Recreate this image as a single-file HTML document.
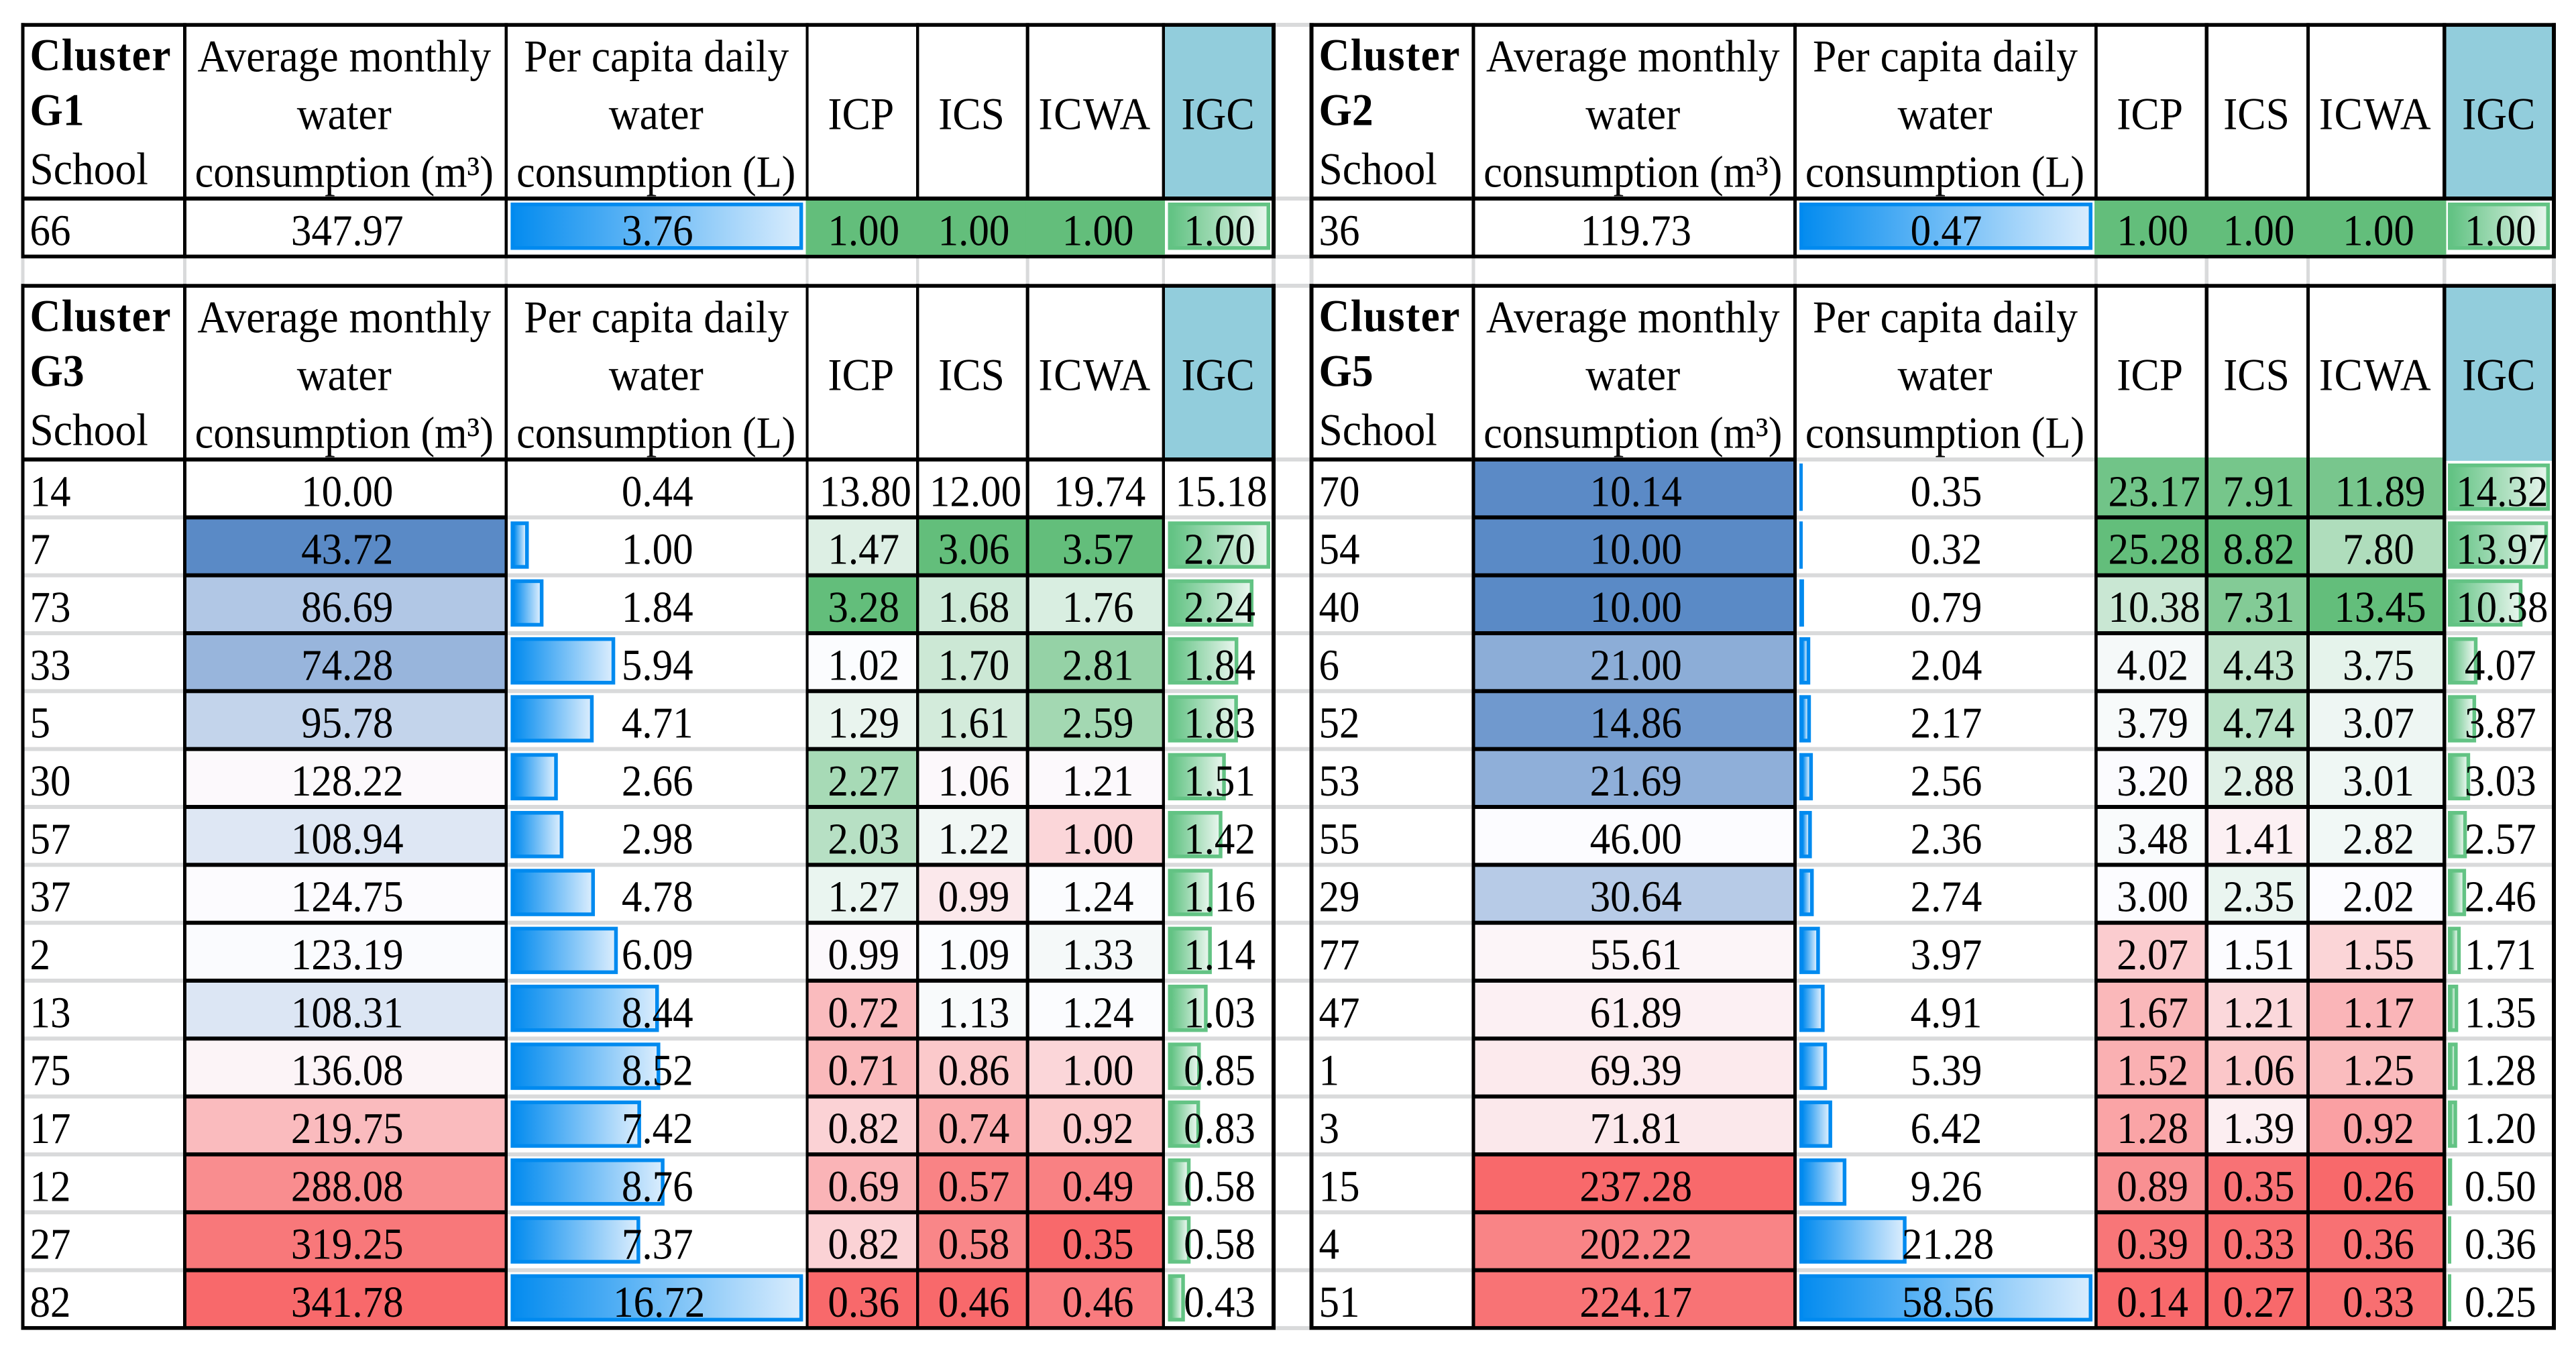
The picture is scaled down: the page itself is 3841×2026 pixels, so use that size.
<!DOCTYPE html>
<html lang="en">
<head>
<meta charset="utf-8">
<title>School water consumption clusters</title>
<style>
  html, body { margin: 0; padding: 0; background: #ffffff; }
  svg { display: block; }
  text { font-family: "Liberation Serif", "Times New Roman", serif; fill: #000000; }
</style>
</head>
<body>
<svg id="chart" xmlns="http://www.w3.org/2000/svg" width="3841" height="2026" viewBox="0 0 3841 2026">
  <defs>
    <linearGradient id="blue-bar-gradient" x1="0" y1="0" x2="1" y2="0">
      <stop offset="0" stop-color="#058cef"/>
      <stop offset="1" stop-color="#d8ecfd"/>
    </linearGradient>
    <linearGradient id="green-bar-gradient" x1="0" y1="0" x2="1" y2="0">
      <stop offset="0" stop-color="#63c384"/>
      <stop offset="1" stop-color="#e6f5ec"/>
    </linearGradient>
  </defs>
  <rect x="0" y="0" width="3841" height="2026" fill="#ffffff"/>
</svg>
<script>
// ---- Data ----
const g1Schools = [66];
const g1Avg = [347.97];
const g1PerCapita = [3.76];
const g1Icp = [1.00];
const g1Ics = [1.00];
const g1Icwa = [1.00];
const g1Igc = [1.00];

const g2Schools = [36];
const g2Avg = [119.73];
const g2PerCapita = [0.47];
const g2Icp = [1.00];
const g2Ics = [1.00];
const g2Icwa = [1.00];
const g2Igc = [1.00];

const g3Schools = [14, 7, 73, 33, 5, 30, 57, 37, 2, 13, 75, 17, 12, 27, 82];
const g3Avg = [10.00, 43.72, 86.69, 74.28, 95.78, 128.22, 108.94, 124.75, 123.19, 108.31, 136.08, 219.75, 288.08, 319.25, 341.78];
const g3PerCapita = [0.44, 1.00, 1.84, 5.94, 4.71, 2.66, 2.98, 4.78, 6.09, 8.44, 8.52, 7.42, 8.76, 7.37, 16.72];
const g3Icp = [13.80, 1.47, 3.28, 1.02, 1.29, 2.27, 2.03, 1.27, 0.99, 0.72, 0.71, 0.82, 0.69, 0.82, 0.36];
const g3Ics = [12.00, 3.06, 1.68, 1.70, 1.61, 1.06, 1.22, 0.99, 1.09, 1.13, 0.86, 0.74, 0.57, 0.58, 0.46];
const g3Icwa = [19.74, 3.57, 1.76, 2.81, 2.59, 1.21, 1.00, 1.24, 1.33, 1.24, 1.00, 0.92, 0.49, 0.35, 0.46];
const g3Igc = [15.18, 2.70, 2.24, 1.84, 1.83, 1.51, 1.42, 1.16, 1.14, 1.03, 0.85, 0.83, 0.58, 0.58, 0.43];
const g3UnscaledRows = [0];

const g5Schools = [70, 54, 40, 6, 52, 53, 55, 29, 77, 47, 1, 3, 15, 4, 51];
const g5Avg = [10.14, 10.00, 10.00, 21.00, 14.86, 21.69, 46.00, 30.64, 55.61, 61.89, 69.39, 71.81, 237.28, 202.22, 224.17];
const g5PerCapita = [0.35, 0.32, 0.79, 2.04, 2.17, 2.56, 2.36, 2.74, 3.97, 4.91, 5.39, 6.42, 9.26, 21.28, 58.56];
const g5Icp = [23.17, 25.28, 10.38, 4.02, 3.79, 3.20, 3.48, 3.00, 2.07, 1.67, 1.52, 1.28, 0.89, 0.39, 0.14];
const g5Ics = [7.91, 8.82, 7.31, 4.43, 4.74, 2.88, 1.41, 2.35, 1.51, 1.21, 1.06, 1.39, 0.35, 0.33, 0.27];
const g5Icwa = [11.89, 7.80, 13.45, 3.75, 3.07, 3.01, 2.82, 2.02, 1.55, 1.17, 1.25, 0.92, 0.26, 0.36, 0.33];
const g5Igc = [14.32, 13.97, 10.38, 4.07, 3.87, 3.03, 2.57, 2.46, 1.71, 1.35, 1.28, 1.20, 0.50, 0.36, 0.25];

// ---- Drawing ----
const svg = document.getElementById('chart');
const NS = 'http://www.w3.org/2000/svg';
const BLACK = '#000000';
const GREY = '#d9dadb';
const ROW_H = 86.33;
const FONT_CELL = 61;
const FONT_HEAD = 63.5;
const FONT_HEAD_LAST = 62.2;
const Y_STRETCH = 1.07;

function addRect(name, x, y, w, h, fill) {
  const el = document.createElementNS(NS, 'rect');
  
  
  el.setAttribute('x', x);
  el.setAttribute('y', y);
  el.setAttribute('width', Math.max(0, w));
  el.setAttribute('height', Math.max(0, h));
  el.setAttribute('fill', fill);
  svg.appendChild(el);
  return el;
}

function addText(name, str, x, y, size, anchor, bold, spacing) {
  const el = document.createElementNS(NS, 'text');
  
  
  el.setAttribute('transform', 'translate(' + x + ',' + y + ') scale(1,' + Y_STRETCH + ')');
  el.setAttribute('font-size', size);
  el.setAttribute('text-anchor', anchor);
  if (bold) el.setAttribute('font-weight', 'bold');
  if (spacing) el.setAttribute('letter-spacing', spacing);
  el.textContent = str;
  svg.appendChild(el);
  return el;
}

function hexToRgb(h) {
  return [parseInt(h.slice(1, 3), 16), parseInt(h.slice(3, 5), 16), parseInt(h.slice(5, 7), 16)];
}
function mix(a, b, t) {
  const ca = hexToRgb(a), cb = hexToRgb(b);
  return 'rgb(' + ca.map(function (v, i) { return Math.round(v + (cb[i] - v) * t); }).join(',') + ')';
}
function median(list) {
  const s = list.slice().sort(function (a, b) { return a - b; });
  const m = Math.floor(s.length / 2);
  return s.length % 2 ? s[m] : (s[m - 1] + s[m]) / 2;
}
// three-colour scale: min colour -> mid colour (median) -> max colour
function colorScale(values, lowColor, highColor) {
  const min = Math.min.apply(null, values);
  const max = Math.max.apply(null, values);
  const mid = median(values);
  const MID = '#fcfcff';
  return function (v) {
    if (min === max) return highColor;
    if (v <= mid) return mid === min ? MID : mix(lowColor, MID, (v - min) / (mid - min));
    return mix(MID, highColor, (v - mid) / (max - mid));
  };
}
function barScale(values, fullWidth) {
  const max = Math.max.apply(null, values);
  return function (v) { return Math.max(5, Math.min(fullWidth, 1 + (v / max) * fullWidth)); };
}
function scaledOnly(values, skip) {
  return values.filter(function (v, i) { return skip.indexOf(i) < 0; });
}
function valueOffset(str, col) {
  const base = str.length >= 5 ? 4.5 : 2;
  if (col === 1) return base - 2;
  if (col === 2) return base - 1;
  if (col === 5) return base + 1.5;
  return base;
}

function drawBar(name, x, y, w, h, border, gradient) {
  addRect(name + '-border', x, y, w, h, border);
  if (w > 11) addRect(name + '-fill', x + 5.5, y + 5.5, w - 11, h - 11, 'url(#' + gradient + ')');
}

function drawTable(t) {
  const e = t.edges;
  const cx = function (i) { return (e[i][1] + e[i + 1][0]) / 2; };
  const n = t.schools.length;
  const headTop = t.top + 3;
  const rowLine = function (i) { return t.firstLine + i * t.rowH; };
  const bottom = rowLine(n);
  const key = t.key;

  // header accent
  addRect(key + '-igc-header-fill', e[6][1], headTop, e[7][0] - e[6][1], (t.headerOpen ? t.firstLine + 2 : t.firstLine - 3) - headTop, '#92cddc');

  // scales
  const avgScale = t.avgScaled ? colorScale(scaledOnly(t.avg, t.skip), '#5a8ac6', '#f8696b') : null;
  const heatCols = [t.icp, t.ics, t.icwa];
  const heatNames = ['icp', 'ics', 'icwa'];
  const heatScales = heatCols.map(function (c) { return colorScale(scaledOnly(c, t.skip), '#f8696b', '#63be7b'); });
  const pcWidth = barScale(scaledOnly(t.perCapita, t.skip), t.pcFull);
  const igcWidth = barScale(scaledOnly(t.igc, t.skip), t.igcFull);

  // cell fills and bars
  for (let i = 0; i < n; i++) {
    const skip = t.skip.indexOf(i) >= 0;
    const y0 = rowLine(i), y1 = rowLine(i + 1);
    const school = t.schools[i];
    if (avgScale && !skip) {
      addRect(key + '-avg-cell-' + school, (e[1][0] + e[1][1]) / 2, y0, e[2][0] - e[1][0], y1 - y0, avgScale(t.avg[i]));
    }
    if (!skip) {
      heatCols.forEach(function (col, c) {
        const top = (t.headerOpen && i === 0) ? y0 - 3 : y0;
        const xa = (e[3 + c][0] + e[3 + c][1]) / 2;
        const xb = (e[4 + c][0] + e[4 + c][1]) / 2;
        addRect(key + '-' + heatNames[c] + '-cell-' + school, xa, top, xb - xa, y1 - top, heatScales[c](col[i]));
      });
      drawBar(key + '-per-capita-bar-' + school, t.pcLeft, y0 + 6, pcWidth(t.perCapita[i]), 70.5, '#008aef', 'blue-bar-gradient');
      drawBar(key + '-igc-bar-' + school, t.igcLeft, y0 + 6, igcWidth(t.igc[i]), 70.5, '#63c384', 'green-bar-gradient');
    }
  }

  // horizontal rules
  addRect(key + '-top-rule', e[0][0], t.top, e[7][1] - e[0][0], 5.6, BLACK);
  for (let i = 0; i <= n; i++) {
    const y = rowLine(i) - 3;
    if (i === n) { addRect(key + '-bottom-rule', e[0][0], y, e[7][1] - e[0][0], 5.6, BLACK); continue; }
    const isHeader = i === 0;
    // school column
    addRect(key + '-school-rule-' + i, e[0][1], y, e[1][0] - e[0][1], 6, (isHeader) ? BLACK : GREY);
    // average column
    addRect(key + '-avg-rule-' + i, e[1][1], y, e[2][0] - e[1][1], 6, BLACK);
    // per capita column
    addRect(key + '-per-capita-rule-' + i, e[2][1], y, e[3][0] - e[2][1], 6, (isHeader && !t.headerOpen) ? BLACK : GREY);
    // heat columns
    if (!(isHeader && t.headerOpen)) {
      addRect(key + '-heat-rule-' + i, e[3][0], y, e[6][1] - e[3][0], 6, BLACK);
    }
    // igc column
    if (isHeader && !t.headerOpen) {
      addRect(key + '-igc-rule-' + i, e[6][0], y, e[7][0] - e[6][0], 6, BLACK);
    } else if (!isHeader) {
      addRect(key + '-igc-rule-' + i, e[6][1], y, e[7][0] - e[6][1], 6, GREY);
    }
  }

  // vertical rules
  e.forEach(function (edge, i) {
    const headOnly = t.single && i >= 3 && i <= 6;
    const yEnd = headOnly ? t.firstLine : bottom;
    addRect(key + '-column-rule-' + i, edge[0], t.top, edge[1] - edge[0], yEnd - t.top, BLACK);
  });
  if (t.single) {
    heatCols.forEach(function (col, c) {
      addRect(key + '-' + heatNames[c] + '-cell-top-' + t.schools[0], e[3 + c][0], t.firstLine + 3, e[4 + c][1] - e[3 + c][0], t.rowH - 5.8, heatScales[c](col[0]));
    });
  }

  // header text
  const tx = e[0][1] + 8;
  addText(key + '-cluster-label', 'Cluster', tx, t.top + 70, FONT_HEAD, 'start', true, 1.5);
  addText(key + '-cluster-name', t.title, tx, t.top + 152, FONT_HEAD, 'start', true);
  addText(key + '-school-header', 'School', tx, t.top + 240, FONT_HEAD, 'start', false);
  const l1 = t.top + 72, l2 = t.top + 158, l3 = t.top + 244;
  addText(key + '-avg-header-line-1', 'Average monthly', cx(1) - 2, l1, FONT_HEAD, 'middle');
  addText(key + '-avg-header-line-2', 'water', cx(1) - 2, l2, FONT_HEAD, 'middle');
  addText(key + '-avg-header-line-3', 'consumption (m\u00B3)', cx(1) - 2, l3, FONT_HEAD_LAST, 'middle');
  addText(key + '-per-capita-header-line-1', 'Per capita daily', cx(2) - 0.5, l1, FONT_HEAD, 'middle');
  addText(key + '-per-capita-header-line-2', 'water', cx(2) - 1, l2, FONT_HEAD, 'middle');
  addText(key + '-per-capita-header-line-3', 'consumption (L)', cx(2) - 1, l3, FONT_HEAD_LAST, 'middle');
  addText(key + '-icp-header', 'ICP', cx(3) - 2, l2, FONT_HEAD, 'middle');
  addText(key + '-ics-header', 'ICS', cx(4) - 1.5, l2, FONT_HEAD, 'middle');
  addText(key + '-icwa-header', 'ICWA', cx(5) - 1, l2, FONT_HEAD, 'middle', false, 1.5);
  addText(key + '-igc-header', 'IGC', cx(6) - 0.5, l2, FONT_HEAD, 'middle');

  // values
  for (let i = 0; i < n; i++) {
    const base = rowLine(i + 1) - 17;
    const school = t.schools[i];
    addText(key + '-school-' + school, String(school), tx, base, FONT_CELL, 'start');
    const rows = [
      [t.avg[i], 1, 'avg'],
      [t.perCapita[i], 2, 'per-capita'],
      [t.icp[i], 3, 'icp'],
      [t.ics[i], 4, 'ics'],
      [t.icwa[i], 5, 'icwa'],
      [t.igc[i], 6, 'igc']
    ];
    rows.forEach(function (r) {
      const s = r[0].toFixed(2);
      addText(key + '-' + r[2] + '-value-' + school, s, cx(r[1]) + valueOffset(s, r[1]), base, FONT_CELL, 'middle');
    });
  }
}

const leftEdges = [[31.5, 36.5], [273, 278], [752.5, 757], [1201.5, 1205.6], [1366, 1370.4], [1529.6, 1534.7], [1732.6, 1737], [1896, 1902]];
const rightEdges = [[1952.5, 1958.5], [2194.4, 2199.5], [2674, 2679], [3123, 3127.7], [3287.5, 3293], [3439, 3444], [3642, 3647.5], [3805, 3811]];

// gap grid lines between the four tables
[37, 296, 382.8, 426].forEach(function (y, i) {
  addRect('gap-grid-line-top-' + i, 1902, y - 3, 50.5, 6, GREY);
});
for (let i = 0; i <= 15; i++) {
  addRect('gap-grid-line-row-' + i, 1902, 685 + i * ROW_H - 3, 50.5, 6, GREY);
}
leftEdges.concat(rightEdges).forEach(function (edge, i) {
  addRect('gap-grid-line-column-' + i, edge[0], 385, edge[1] - edge[0], 39, GREY);
});

drawTable({ key: 'g1', title: 'G1', edges: leftEdges, top: 34.3, firstLine: 296, rowH: 86.6, single: true, headerOpen: false, avgScaled: false, skip: [],
  schools: g1Schools, avg: g1Avg, perCapita: g1PerCapita, icp: g1Icp, ics: g1Ics, icwa: g1Icwa, igc: g1Igc,
  pcLeft: 761.4, pcFull: 436, igcLeft: 1741.5, igcFull: 152.5 });
drawTable({ key: 'g2', title: 'G2', edges: rightEdges, top: 34.3, firstLine: 296, rowH: 86.6, single: true, headerOpen: false, avgScaled: false, skip: [],
  schools: g2Schools, avg: g2Avg, perCapita: g2PerCapita, icp: g2Icp, ics: g2Ics, icwa: g2Icwa, igc: g2Igc,
  pcLeft: 2683, pcFull: 437, igcLeft: 3650, igcFull: 152 });
drawTable({ key: 'g3', title: 'G3', edges: leftEdges, top: 423.3, firstLine: 685, rowH: ROW_H, single: false, headerOpen: false, avgScaled: true, skip: g3UnscaledRows,
  schools: g3Schools, avg: g3Avg, perCapita: g3PerCapita, icp: g3Icp, ics: g3Ics, icwa: g3Icwa, igc: g3Igc,
  pcLeft: 761.4, pcFull: 436, igcLeft: 1741.5, igcFull: 152.5 });
drawTable({ key: 'g5', title: 'G5', edges: rightEdges, top: 423.3, firstLine: 685, rowH: ROW_H, single: false, headerOpen: true, avgScaled: true, skip: [],
  schools: g5Schools, avg: g5Avg, perCapita: g5PerCapita, icp: g5Icp, ics: g5Ics, icwa: g5Icwa, igc: g5Igc,
  pcLeft: 2683, pcFull: 437, igcLeft: 3650, igcFull: 152 });
</script>
</body>
</html>
